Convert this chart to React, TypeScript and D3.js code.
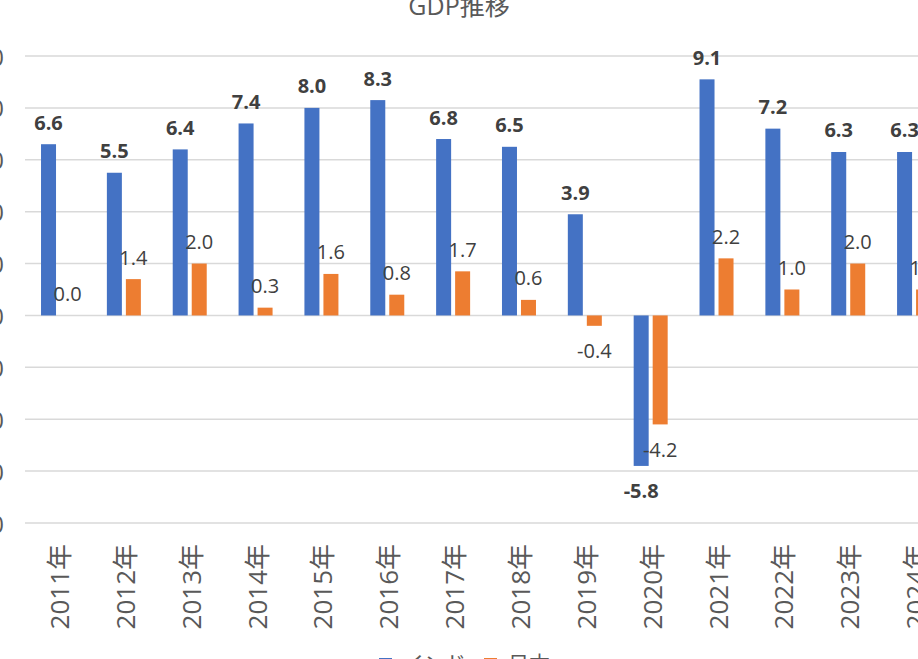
import React from "react";
import * as d3 from "d3";

const years = ["2011年","2012年","2013年","2014年","2015年","2016年","2017年","2018年","2019年","2020年","2021年","2022年","2023年","2024年"];
const india = [6.6, 5.5, 6.4, 7.4, 8.0, 8.3, 6.8, 6.5, 3.9, -5.8, 9.1, 7.2, 6.3, 6.3];
const japan = [0.0, 1.4, 2.0, 0.3, 1.6, 0.8, 1.7, 0.6, -0.4, -4.2, 2.2, 1.0, 2.0, 1.0];
const yTicks = [10, 8, 6, 4, 2, 0, -2, -4, -6, -8];
const seriesNames = ["インド", "日本"];
const colors = ["#4472C4", "#ED7D31"];

const W = 918, H = 659;
const FONT = "'Open Sans', 'Noto Sans CJK JP', sans-serif";
const fmt = (v: number) => d3.format(".1f")(v).replace("\u2212", "-");

export default function App() {
  const x = d3.scaleBand<string>().domain(years).range([25.1, 25.1 + 14 * 65.85]).padding(0);
  const xi = d3.scaleBand<string>().domain(seriesNames).range([0, 34]).paddingInner(4 / 19);
  const y = d3.scaleLinear().domain([-8, 10]).range([523, 56]);
  const offset = (x.bandwidth() - 34) / 2;
  const series = [india, japan];

  return (
    <svg width={W} height={H} style={{ position: "absolute", left: 0, top: 0, fontFamily: FONT }}>
      <rect width={W} height={H} fill="#fff" />
      <text x={459} y={15} textAnchor="middle" fontSize={25} fill="#595959">GDP推移</text>
      {yTicks.map((t) => (
        <g key={t}>
          <line x1={25} x2={W} y1={y(t)} y2={y(t)} stroke="#d9d9d9" strokeWidth={1.5} />
          <text x={4} y={y(t)} textAnchor="end" dominantBaseline="central" fontSize={24} fill="#595959">
            {fmt(t)}
          </text>
        </g>
      ))}
      {series.map((vals, si) =>
        vals.map((v, i) => {
          const bx = (x(years[i]) as number) + offset + (xi(seriesNames[si]) as number);
          const y0 = y(0), y1 = y(v);
          const top = Math.min(y0, y1), h = Math.abs(y1 - y0);
          const cx = bx + xi.bandwidth() / 2;
          const ly = v >= 0 ? top - 22 : top + h + 25;
          return (
            <g key={`${si}-${i}`}>
              <rect x={bx} y={top} width={xi.bandwidth()} height={h} fill={colors[si]} />
              <text
                x={cx}
                y={ly}
                textAnchor="middle"
                dominantBaseline="central"
                fontSize={20}
                fontWeight={si === 0 ? "bold" : "normal"}
                fill="#404040"
              >
                {fmt(v)}
              </text>
            </g>
          );
        })
      )}
      {years.map((yr) => {
        const cx = (x(yr) as number) + x.bandwidth() / 2;
        return (
          <text
            key={yr}
            transform={`translate(${cx + 1},544) rotate(-90)`}
            textAnchor="end"
            dominantBaseline="central"
            fontSize={26}
            fill="#595959"
          >
            {yr}
          </text>
        );
      })}
      {seriesNames.map((n, i) => {
        const lx = [379, 484][i];
        return (
          <g key={n}>
            <rect x={lx} y={658} width={13} height={13} fill={colors[i]} />
            <text x={lx + 24} y={671} fontSize={21} fill="#595959">{n}</text>
          </g>
        );
      })}
    </svg>
  );
}
